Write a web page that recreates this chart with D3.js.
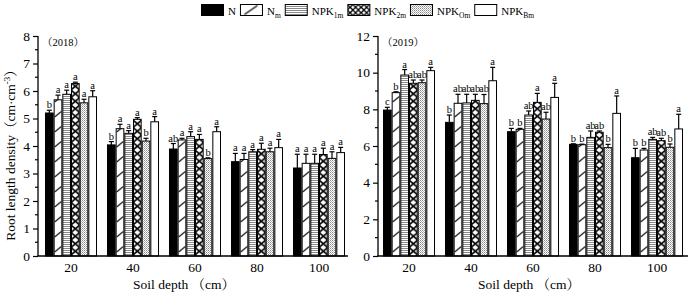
<!DOCTYPE html>
<html>
<head>
<meta charset="utf-8">
<script src="https://cdn.jsdelivr.net/npm/d3@7"></script>
<style>
  body { margin: 0; background: #fff; }
  svg { display: block; }
  text { font-family: "Liberation Serif", "Times New Roman", "Noto Serif CJK SC", "Noto Sans CJK SC", serif; fill: #000; }
</style>
</head>
<body>
<div id="chart"></div>
<script>
const depths = ["20", "40", "60", "80", "100"];
const treatments = ["N", "Nm", "NPK1m", "NPK2m", "NPKOm", "NPKBm"];
const legendNames = [["N", ""], ["N", "m"], ["NPK", "1m"], ["NPK", "2m"], ["NPK", "Om"], ["NPK", "Bm"]];

// rows = treatments, columns = depths
const mean2018 = [
  [5.20, 4.04, 3.89, 3.43, 3.20],
  [5.68, 4.63, 4.22, 3.51, 3.37],
  [5.88, 4.46, 4.34, 3.79, 3.37],
  [6.27, 4.97, 4.24, 3.88, 3.69],
  [5.57, 4.18, 3.54, 3.79, 3.55],
  [5.79, 4.88, 4.52, 3.94, 3.76]
];
const err2018 = [
  [0.10, 0.12, 0.20, 0.30, 0.50],
  [0.17, 0.16, 0.06, 0.22, 0.33],
  [0.15, 0.10, 0.18, 0.08, 0.33],
  [0.05, 0.06, 0.18, 0.22, 0.23],
  [0.13, 0.10, 0.03, 0.13, 0.24],
  [0.22, 0.19, 0.18, 0.30, 0.19]
];
const sig2018 = [
  ["b", "b", "ab", "a", "a"],
  ["a", "a", "a", "a", "a"],
  ["a", "a", "a", "a", "a"],
  ["a", "a", "a", "a", "a"],
  ["a", "b", "b", "a", "a"],
  ["a", "a", "a", "a", "a"]
];
const mean2019 = [
  [7.96, 7.29, 6.78, 6.09, 5.36],
  [8.91, 8.33, 6.91, 6.07, 5.78],
  [9.87, 8.35, 7.69, 6.47, 6.36],
  [9.42, 8.49, 8.38, 6.75, 6.29],
  [9.45, 8.31, 7.47, 5.91, 5.93],
  [10.11, 9.56, 8.65, 7.78, 6.93]
];
const err2019 = [
  [0.15, 0.40, 0.18, 0.03, 0.51],
  [0.05, 0.49, 0.05, 0.03, 0.09],
  [0.30, 0.47, 0.22, 0.35, 0.11],
  [0.18, 0.33, 0.49, 0.07, 0.13],
  [0.15, 0.50, 0.37, 0.18, 0.18],
  [0.18, 0.73, 0.77, 0.95, 0.80]
];
const sig2019 = [
  ["c", "b", "b", "b", "b"],
  ["b", "ab", "b", "b", "b"],
  ["a", "ab", "ab", "ab", "ab"],
  ["ab", "ab", "a", "ab", "ab"],
  ["ab", "ab", "ab", "b", "b"],
  ["a", "a", "a", "a", "a"]
];

const W = 690, H = 293;
const svg = d3.select("#chart").append("svg").attr("width", W).attr("height", H);
const defs = svg.append("defs");

// shared fine-texture patterns
const hp = defs.append("pattern").attr("id", "pat-h").attr("patternUnits", "userSpaceOnUse")
  .attr("width", 4).attr("height", 2);
hp.append("rect").attr("width", 4).attr("height", 2).attr("fill", "#fff");
hp.append("rect").attr("width", 4).attr("height", 1).attr("fill", "#8a8a8a");

const dp = defs.append("pattern").attr("id", "pat-d").attr("patternUnits", "userSpaceOnUse")
  .attr("width", 2).attr("height", 2);
dp.append("rect").attr("width", 2).attr("height", 2).attr("fill", "#fff");
dp.append("rect").attr("width", 1).attr("height", 1).attr("fill", "#8a8a8a");
dp.append("rect").attr("x", 1).attr("y", 1).attr("width", 1).attr("height", 1).attr("fill", "#b5b5b5");

// patterns aligned to a bar's left edge
function slashPattern(id, x0, w) {
  const p = defs.append("pattern").attr("id", id).attr("patternUnits", "userSpaceOnUse")
    .attr("x", x0).attr("y", 0).attr("width", w).attr("height", 15);
  p.append("rect").attr("width", w).attr("height", 15).attr("fill", "#fff");
  p.append("line").attr("x1", 1).attr("y1", 12).attr("x2", w - 1).attr("y2", 6.5)
    .attr("stroke", "#000").attr("stroke-width", 1);
}
function crossPattern(id, x0, w) {
  const p = defs.append("pattern").attr("id", id).attr("patternUnits", "userSpaceOnUse")
    .attr("x", x0).attr("y", 0).attr("width", w).attr("height", 7.5);
  p.append("rect").attr("width", w).attr("height", 7.5).attr("fill", "#fff");
  p.append("path").attr("d", `M0,0L${w},7.5M${w},0L0,7.5`)
    .attr("stroke", "#000").attr("stroke-width", 1.6).attr("fill", "none");
}

function fillFor(i, id) {
  if (i === 0) return "#000";
  if (i === 1) return `url(#slash-${id})`;
  if (i === 2) return "url(#pat-h)";
  if (i === 3) return `url(#cross-${id})`;
  if (i === 4) return "url(#pat-d)";
  return "#fff";
}

const panels = [
  { key: "a", mean: mean2018, err: err2018, sig: sig2018, axisX: 38, x0: 40, x1: 350, xEnd: 348,
    yMax: 8, major: 1, minor: 0.5, tag: "（2018）", titleX: 184 },
  { key: "b", mean: mean2019, err: err2019, sig: sig2019, axisX: 378, x0: 378, x1: 688, xEnd: 688,
    yMax: 12, major: 2, minor: 1, tag: "（2019）", titleX: 529 }
];

const yTop = 36, yBottom = 256;

panels.forEach(pn => {
  const g = svg.append("g");
  const y = d3.scaleLinear().domain([0, pn.yMax]).range([yBottom, yTop]);
  const x = d3.scaleBand().domain(depths).range([pn.x0, pn.x1]).paddingInner(0.161).paddingOuter(0.0805);
  const xi = d3.scaleBand().domain(treatments).range([0, x.bandwidth()]);
  const bw = xi.bandwidth();

  depths.forEach((d, j) => {
    slashPattern(`slash-${pn.key}${j}`, x(d) + xi("Nm"), bw);
    crossPattern(`cross-${pn.key}${j}`, x(d) + xi("NPK2m"), bw);
  });

  // bars
  treatments.forEach((t, i) => {
    depths.forEach((d, j) => {
      const bx = x(d) + xi(t);
      const v = pn.mean[i][j];
      const e = pn.err[i][j];
      g.append("rect")
        .attr("x", bx + 0.5).attr("y", y(v))
        .attr("width", bw - 1).attr("height", y(0) - y(v))
        .attr("fill", fillFor(i, pn.key + j))
        .attr("stroke", "#000").attr("stroke-width", 1);
      const cx = bx + bw / 2;
      g.append("line").attr("x1", cx).attr("x2", cx).attr("y1", y(v)).attr("y2", y(v + e))
        .attr("stroke", "#000").attr("stroke-width", 1.2);
      g.append("line").attr("x1", cx - 2.5).attr("x2", cx + 2.5).attr("y1", y(v + e)).attr("y2", y(v + e))
        .attr("stroke", "#000").attr("stroke-width", 1.2);
      g.append("text").attr("x", cx).attr("y", y(v + e) - 2)
        .attr("text-anchor", "middle").attr("font-size", 10.5)
        .text(pn.sig[i][j]);
    });
  });

  // y axis
  const yAxis = g.append("g").attr("transform", `translate(${pn.axisX},0)`)
    .call(d3.axisLeft(y).tickValues(d3.range(0, pn.yMax + 0.001, pn.major)).tickSize(5).tickPadding(3)
      .tickFormat(d3.format("d")));
  yAxis.select(".domain").remove();
  yAxis.selectAll("text").attr("font-size", 13.5).attr("font-family", null);
  yAxis.selectAll("line").attr("stroke-width", 1.2);
  g.append("g").attr("transform", `translate(${pn.axisX},0)`)
    .selectAll("line").data(d3.range(pn.minor, pn.yMax, pn.major)).join("line")
    .attr("x1", -3).attr("x2", 0).attr("y1", d => y(d)).attr("y2", d => y(d))
    .attr("stroke", "#000").attr("stroke-width", 1.2);
  g.append("line").attr("x1", pn.axisX).attr("x2", pn.axisX).attr("y1", yTop).attr("y2", yBottom)
    .attr("stroke", "#000").attr("stroke-width", 1.3);

  // x axis
  g.append("line").attr("x1", pn.axisX - 0.6).attr("x2", pn.xEnd).attr("y1", yBottom).attr("y2", yBottom)
    .attr("stroke", "#000").attr("stroke-width", 1.4);
  g.selectAll(".xl").data(depths).join("text")
    .attr("x", d => x(d) + x.bandwidth() / 2).attr("y", 272)
    .attr("text-anchor", "middle").attr("font-size", 13.5).text(d => d);
  g.append("text").attr("x", pn.titleX).attr("y", 289).attr("text-anchor", "middle")
    .attr("font-size", 13.5).text("Soil depth （cm）");

  g.append("text").attr("x", pn.axisX + 4).attr("y", 46).attr("font-size", 10.5).text(pn.tag);
});

// y axis title
const yt = svg.append("text").attr("transform", "translate(15,152) rotate(-90)")
  .attr("text-anchor", "middle").attr("font-size", 13.5);
yt.append("tspan").text("Root length density（cm·cm");
yt.append("tspan").attr("font-size", 9).attr("dy", -5).text("-3");
yt.append("tspan").attr("dy", 5).text("）");

// legend
const leg = svg.append("g");
let lx = 201;
treatments.forEach((t, i) => {
  leg.append("rect").attr("x", lx + 0.5).attr("y", 4.5).attr("width", 22).attr("height", 11)
    .attr("fill", i === 1 ? "url(#legslash)" : i === 3 ? "url(#legcross)" : fillFor(i, ""))
    .attr("stroke", "#000").attr("stroke-width", 1);
  if (i === 1) {
    const p = defs.append("pattern").attr("id", "legslash").attr("patternUnits", "userSpaceOnUse")
      .attr("x", lx + 0.5).attr("y", 4.5).attr("width", 22).attr("height", 11);
    p.append("rect").attr("width", 22).attr("height", 11).attr("fill", "#fff");
    p.append("line").attr("x1", 4).attr("y1", 10).attr("x2", 17).attr("y2", 1)
      .attr("stroke", "#000").attr("stroke-width", 1.2);
  }
  if (i === 3) {
    const p = defs.append("pattern").attr("id", "legcross").attr("patternUnits", "userSpaceOnUse")
      .attr("x", lx).attr("y", 4.5).attr("width", 5.5).attr("height", 5.5);
    p.append("rect").attr("width", 5.5).attr("height", 5.5).attr("fill", "#fff");
    p.append("path").attr("d", "M0,0L5.5,5.5M5.5,0L0,5.5")
      .attr("stroke", "#000").attr("stroke-width", 1.3);
  }
  const tx = leg.append("text").attr("x", lx + 27).attr("y", 15).attr("font-size", 11);
  tx.append("tspan").text(legendNames[i][0]);
  if (legendNames[i][1]) tx.append("tspan").attr("font-size", 7.5).attr("dy", 2.5).text(legendNames[i][1]);
  lx += 27 + tx.node().getComputedTextLength() + 4;
});
</script>
</body>
</html>
